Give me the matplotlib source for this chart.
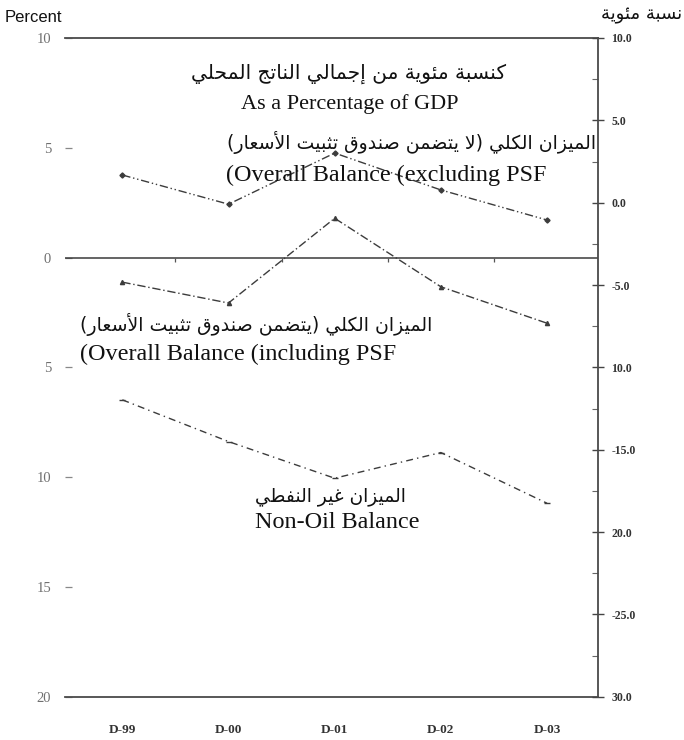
import matplotlib
matplotlib.use("Agg")
import matplotlib.pyplot as plt
import numpy as np
from matplotlib.ticker import FixedLocator

# ---------------- data ----------------
categories = ["D-99", "D-00", "D-01", "D-02", "D-03"]
overall_excl_psf = [3.76, 2.43, 4.76, 3.08, 1.71]
overall_incl_psf = [-1.12, -2.07, 1.79, -1.33, -2.99]
non_oil_balance = [-6.48, -8.38, -10.05, -8.88, -11.19]

left_ticks = [10, 5, 0, -5, -10, -15, -20]
left_tick_labels = ["10", "5", "0", "5", "10", "15", "20"]
right_ticks = [10, 5, 0, -5, -10, -15, -20, -25, -30]
right_tick_labels = ["10.0", "5.0", "0.0", "-5.0", "10.0", "-15.0", "20.0", "-25.0", "30.0"]

# ---------------- simple Arabic shaping ----------------
FOUR = {'ئ': 0xFE89, 'ب': 0xFE8F, 'ت': 0xFE95, 'ث': 0xFE99, 'ج': 0xFE9D, 'ح': 0xFEA1,
        'خ': 0xFEA5, 'س': 0xFEB1, 'ش': 0xFEB5, 'ص': 0xFEB9, 'ض': 0xFEBD, 'ط': 0xFEC1,
        'ظ': 0xFEC5, 'ع': 0xFEC9, 'غ': 0xFECD, 'ف': 0xFED1, 'ق': 0xFED5, 'ك': 0xFED9,
        'ل': 0xFEDD, 'م': 0xFEE1, 'ن': 0xFEE5, 'ه': 0xFEE9, 'ي': 0xFEF1}
TWO = {'آ': 0xFE81, 'أ': 0xFE83, 'ؤ': 0xFE85, 'إ': 0xFE87, 'ا': 0xFE8D, 'ة': 0xFE93,
       'د': 0xFEA9, 'ذ': 0xFEAB, 'ر': 0xFEAD, 'ز': 0xFEAF, 'و': 0xFEED, 'ى': 0xFEEF}
LAMALEF = {'آ': 0xFEF5, 'أ': 0xFEF7, 'إ': 0xFEF9, 'ا': 0xFEFB}
MIRROR = {'(': ')', ')': '('}


def shape_ar(s):
    toks = []
    i = 0
    while i < len(s):
        c = s[i]
        if c == 'ل' and i + 1 < len(s) and s[i + 1] in LAMALEF:
            toks.append(('LA', s[i + 1]))
            i += 2
        else:
            toks.append(c)
            i += 1

    def is_ar(t):
        return isinstance(t, tuple) or t in FOUR or t in TWO

    def joins_next(t):
        return (not isinstance(t, tuple)) and t in FOUR

    out = []
    n = len(toks)
    for k, t in enumerate(toks):
        prev = k > 0 and joins_next(toks[k - 1])
        if isinstance(t, tuple):
            out.append(chr(LAMALEF[t[1]] + (1 if prev else 0)))
        elif t in FOUR:
            nxt = k + 1 < n and is_ar(toks[k + 1])
            b = FOUR[t]
            if prev and nxt:
                out.append(chr(b + 3))
            elif prev:
                out.append(chr(b + 1))
            elif nxt:
                out.append(chr(b + 2))
            else:
                out.append(chr(b))
        elif t in TWO:
            out.append(chr(TWO[t] + (1 if prev else 0)))
        else:
            out.append(MIRROR.get(t, t))
    return "".join(reversed(out))


AR = ['DejaVu Sans']
SERIF = ['Liberation Serif', 'DejaVu Serif']

# ---------------- figure ----------------
W, H = 684, 740
fig = plt.figure(figsize=(W / 100, H / 100), dpi=100)
fig.patch.set_facecolor('white')


def fx(px):
    return px / W


def fy(py):
    return 1 - py / H


top_px, bot_px, left_px, right_px = 38, 696.7, 65, 598
ax = fig.add_axes([fx(left_px), fy(bot_px), fx(right_px - left_px), (bot_px - top_px) / H])
x = np.arange(len(categories))
ax.set_xlim(-0.54, len(categories) - 0.52)
ax.set_ylim(-20, 10)

for sp in ['left', 'right']:
    ax.spines[sp].set_visible(False)
for sp in ['top', 'bottom']:
    ax.spines[sp].set_color('#4a4a4a')
    ax.spines[sp].set_linewidth(1.3)

ax.axhline(0, color='#3a3a3a', lw=1.1, zorder=2)
bounds = x[:-1] + 0.5
ax.vlines(bounds, -0.22, 0, color='#555555', lw=0.9)

ax.set_xticks(x)
ax.set_xticklabels(categories, fontsize=9.5, family=SERIF, fontweight='bold', color='#333333')
ax.tick_params(axis='x', length=0, pad=20)

ax.set_yticks(left_ticks)
ax.set_yticklabels(left_tick_labels, fontsize=10.5, family=SERIF, color='#707070')
ax.tick_params(axis='y', direction='in', length=5, width=0.9, color='#888888', pad=10)

line_color = '#3c3c3c'
ax.plot(x, overall_excl_psf, color=line_color, lw=1.0, linestyle=(0, (6, 2, 1, 2, 1, 2)),
        marker='D', markersize=2.6, zorder=3)
ax.plot(x, overall_incl_psf, color=line_color, lw=1.0, linestyle=(0, (6, 2, 1, 2)),
        marker='^', markersize=3.0, zorder=3)
ax.plot(x, non_oil_balance, color=line_color, lw=1.0, linestyle=(0, (5, 3, 1, 3)),
        marker='_', markersize=4, zorder=3)

ax2 = ax.twinx()
ax2.set_ylim(-30, 10)
for sp in ['left', 'top', 'bottom']:
    ax2.spines[sp].set_visible(False)
ax2.spines['right'].set_color('#4a4a4a')
ax2.spines['right'].set_linewidth(1.3)
ax2.set_yticks(right_ticks)
ax2.set_yticklabels(right_tick_labels, fontsize=8.5, family=SERIF, fontweight='bold', color='#333333')
ax2.yaxis.set_minor_locator(FixedLocator(np.array(right_ticks[:-1]) - 2.5))
ax2.tick_params(axis='y', which='major', direction='inout', length=9, width=1.0, color='#444444', pad=5)
ax2.tick_params(axis='y', which='minor', direction='in', length=4, width=0.8, color='#666666')

# ---------------- texts ----------------
fig.text(fx(5), fy(17), "Percent", ha='left', va='center', fontsize=12,
         family=['Liberation Sans', 'DejaVu Sans'], color='#111111')
fig.text(fx(682), fy(15), shape_ar("نسبة مئوية"), ha='right', va='center', fontsize=13,
         family=AR, color='#111111')

fig.text(fx(349), fy(74), shape_ar("كنسبة مئوية من إجمالي الناتج المحلي"), ha='center', va='center',
         fontsize=14.5, family=AR, color='#111111')
fig.text(fx(350), fy(104), "As a Percentage of GDP", ha='center', va='center',
         fontsize=16, family=SERIF, color='#111111')

fig.text(fx(596), fy(142), shape_ar("الميزان الكلي (لا يتضمن صندوق تثبيت الأسعار)"), ha='right', va='center',
         fontsize=13.6, family=AR, color='#111111')
fig.text(fx(226), fy(175), "(Overall Balance (excluding PSF", ha='left', va='center',
         fontsize=17.4, family=SERIF, color='#111111')

fig.text(fx(80), fy(324), shape_ar("الميزان الكلي (يتضمن صندوق تثبيت الأسعار)"), ha='left', va='center',
         fontsize=13.6, family=AR, color='#111111')
fig.text(fx(80), fy(354), "(Overall Balance (including PSF", ha='left', va='center',
         fontsize=17.4, family=SERIF, color='#111111')

fig.text(fx(330), fy(497), shape_ar("الميزان غير النفطي"), ha='center', va='center',
         fontsize=13.4, family=AR, color='#111111')
fig.text(fx(337), fy(523), "Non-Oil Balance", ha='center', va='center',
         fontsize=17.4, family=SERIF, color='#111111')

fig.savefig("out.png", dpi=100, facecolor='white')
